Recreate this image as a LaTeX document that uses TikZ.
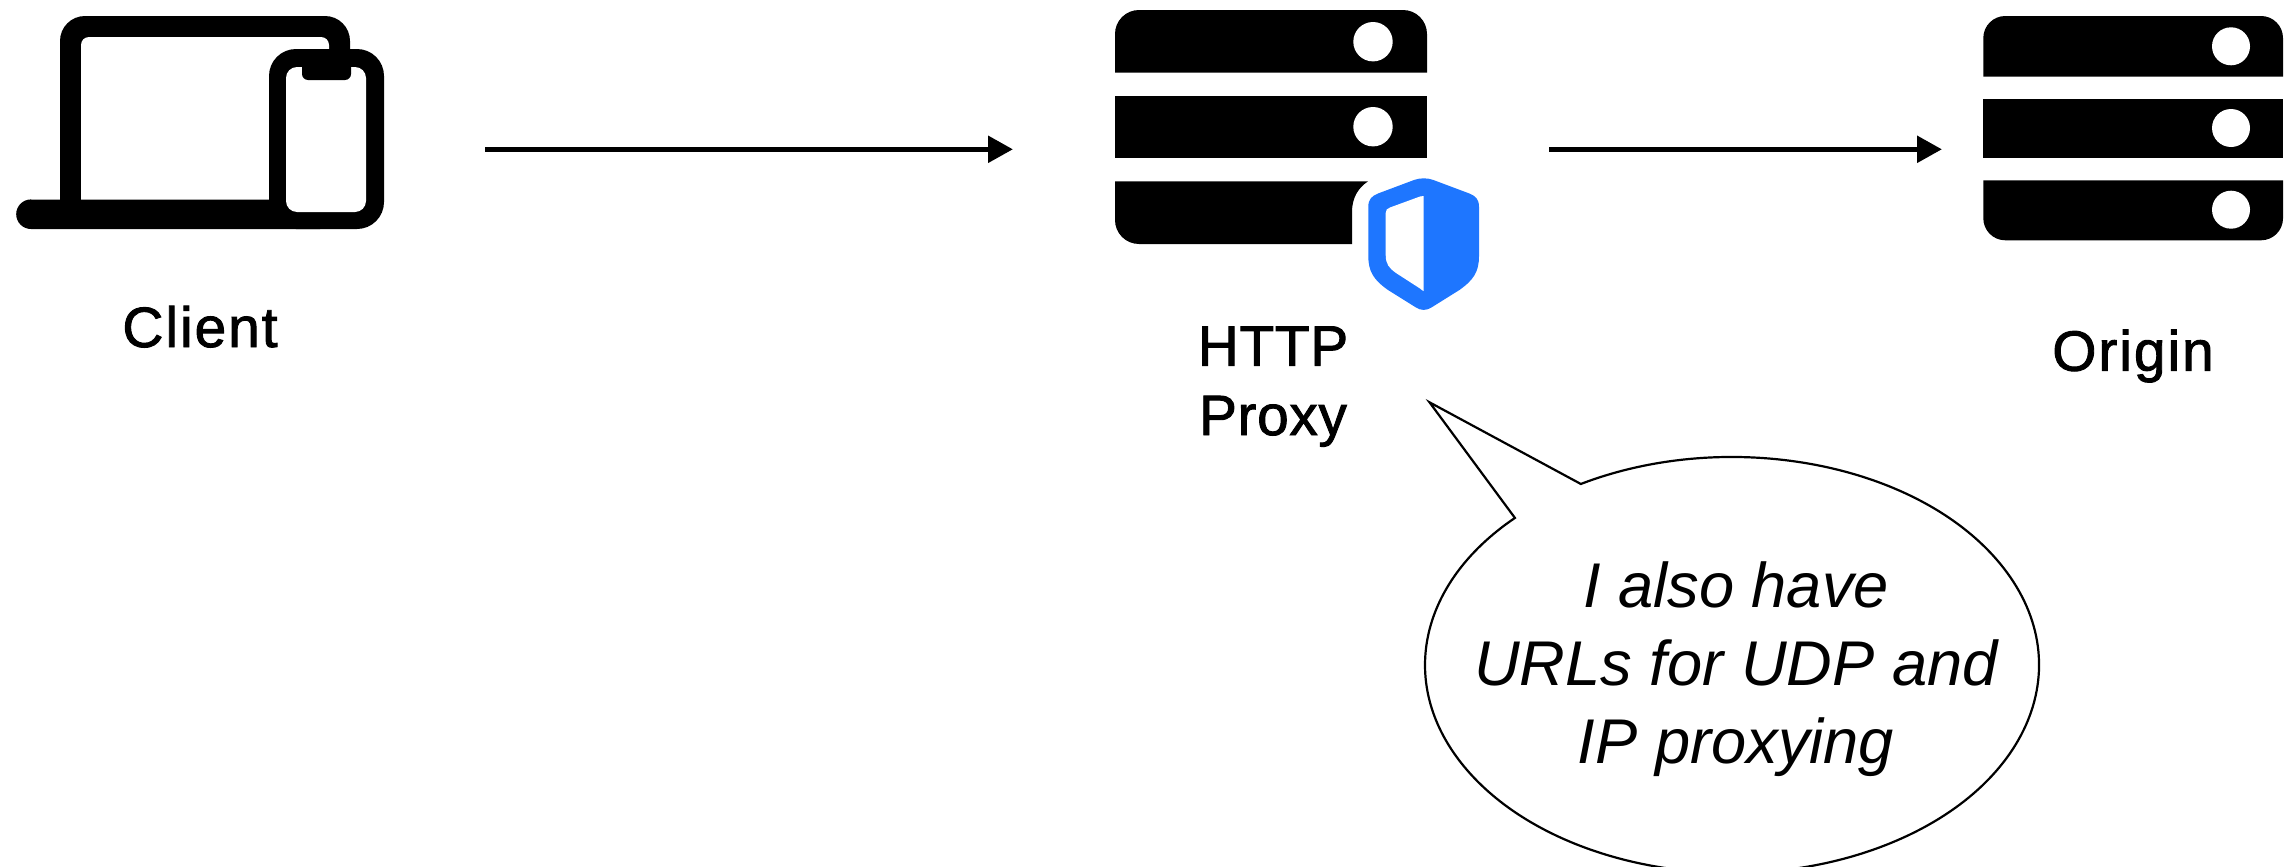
\documentclass[tikz,border=0pt]{standalone}
\usepackage{fontspec}
\setmainfont{Liberation Sans}
\newfontfamily\widelabel{Liberation Sans}[FakeBold=1.6,LetterSpace=3.5]
\newfontfamily\tightlabel{Liberation Sans}[FakeBold=1.6,LetterSpace=1.2]
\usetikzlibrary{arrows.meta,calc}
\definecolor{shield}{HTML}{1E76FF}
\tikzset{
  px/.style={x=0.5pt,y=-0.5pt},
  solid fill/.style={fill=black,draw=none},
  hole/.style={fill=white,draw=none},
  label text/.style={align=center,inner sep=0pt,text=black,anchor=base},
  bubble text/.style={font=\fontsize{31.6}{38.8}\selectfont\itshape,align=center,inner sep=0pt,text=black,anchor=base},
  port/.style={inner sep=0pt,minimum size=0pt,outer sep=0pt},
  link/.style={line width=2.75pt,-{Triangle[length=12.5pt,width=13pt]}},
}
\begin{document}
\begin{tikzpicture}[px]
\useasboundingbox (0,0) rectangle (2287,867);
\fill[white] (0,0) rectangle (2287,867);
\clip (0,0) rectangle (2287,867);
% laptop
\fill[solid fill] (60,60) [rounded corners=12.5pt] -- (60,16) -- (350,16) [sharp corners] -- (350,60) -- cycle;
\fill[solid fill] (60,50) rectangle (81,205);
\fill[hole] (81,205) [rounded corners=4pt] -- (81,37) -- (329,37) [sharp corners] -- (329,120) -- (269,205) -- cycle;
\fill[solid fill] (31,199.5) -- (320,199.5) -- (320,229) -- (31,229) arc[start angle=270,end angle=90,radius=7.4pt] -- cycle;
\fill[solid fill,rounded corners=13.5pt] (269,49) rectangle (384,229);
\fill[hole,rounded corners=5.5pt] (286,67) rectangle (366,212);
\fill[solid fill,rounded corners=3pt] (302,60) rectangle (351,80);
% proxy server
\fill[solid fill] (1115,72.7) [rounded corners=12pt] -- (1115,10) -- (1427,10) [sharp corners] -- (1427,72.7) -- cycle;
\fill[solid fill] (1115,96) rectangle (1427,158);
\fill[solid fill] (1368,181.3) -- (1115,181.3) [rounded corners=12pt] -- (1115,244) [sharp corners] -- (1352,244) -- (1352,212) .. controls (1352,198) and (1358,188) .. (1368,181.3) -- cycle;
\fill[hole] (1373,41.7) circle[radius=9.85pt];
\fill[hole] (1373,126.7) circle[radius=9.85pt];
% shield
\fill[shield] (1423.7,178.3)
  .. controls (1420,178.3) and (1417,179) .. (1414,180)
  -- (1378,193.5)
  .. controls (1372,196) and (1368.3,199) .. (1368.3,207)
  -- (1368.3,256)
  .. controls (1368.3,272) and (1374,280) .. (1388,290)
  -- (1416,307.5)
  .. controls (1421,310.7) and (1426.4,310.7) .. (1431.4,307.5)
  -- (1459.4,290)
  .. controls (1473.4,280) and (1479,272) .. (1479,256)
  -- (1479,207)
  .. controls (1479,199) and (1475.4,196) .. (1469.4,193.5)
  -- (1433.4,180)
  .. controls (1430.4,179) and (1427.4,178.3) .. (1423.7,178.3) -- cycle;
\fill[hole] (1423.7,196)
  .. controls (1422.5,196) and (1421.5,196) .. (1420,196.5)
  -- (1390,207.5)
  .. controls (1387,208.5) and (1385.7,210) .. (1385.7,213)
  -- (1385.7,255)
  .. controls (1385.7,264) and (1389,268) .. (1396,273)
  -- (1420,288.5)
  .. controls (1421.5,289.5) and (1422.5,291) .. (1423.7,291)
  -- cycle;
% origin server
\fill[solid fill] (1983.3,76.7) [rounded corners=11pt] -- (1983.3,16) -- (2283,16) [sharp corners] -- (2283,76.7) -- cycle;
\fill[solid fill] (1983.3,98.7) rectangle (2283,158.3);
\fill[solid fill] (1983.3,180.3) [rounded corners=11pt] -- (1983.3,240.3) -- (2283,240.3) [sharp corners] -- (2283,180.3) -- cycle;
\fill[hole] (2231,46.3) circle[radius=9.5pt];
\fill[hole] (2231,128) circle[radius=9.5pt];
\fill[hole] (2231,209.7) circle[radius=9.5pt];
% labels
\node[label text,font=\widelabel\fontsize{28.4}{34.7}\selectfont] (clientlabel) at (200,347) {Client};
\node[label text,font=\tightlabel\fontsize{28.4}{34.7}\selectfont] (proxylabel) at (1273,435) {HTTP\\Proxy};
\node[label text,font=\widelabel\fontsize{28.4}{34.7}\selectfont] (originlabel) at (2133,370.7) {Origin};
% connectors
\node[port] (cOut) at (485,149.3) {};
\node[port] (pIn) at (1013,149.3) {};
\node[port] (pOut) at (1549,149.3) {};
\node[port] (oIn) at (1942,149.3) {};
\draw[link] (cOut) -- (pIn);
\draw[link] (pOut) -- (oIn);
% bubble
\coordinate (tip) at (1429.5,402.3);
\coordinate (bubblecentre) at (1732,665);
\draw[line width=1.1pt,fill=white,line join=miter] (tip) -- ($(bubblecentre)+(119.5:153.5pt and 104pt)$) arc[start angle=119.5,end angle=-225,x radius=153.5pt,y radius=104pt] -- cycle;
\node[bubble text] (bubbletext) at (1736,763) {I also have\\URLs for UDP and\\IP proxying};
\end{tikzpicture}
\end{document}
